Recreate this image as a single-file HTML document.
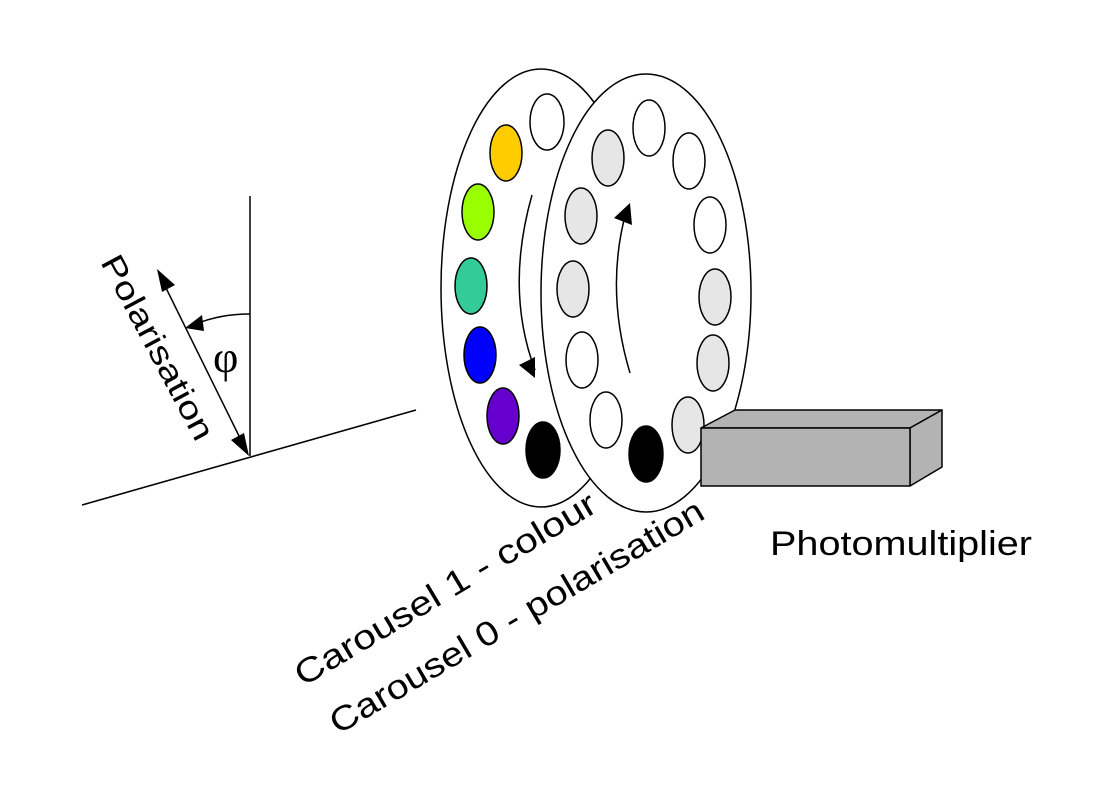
<!DOCTYPE html>
<html><head><meta charset="utf-8"><style>html,body{margin:0;padding:0;background:#fff}svg{display:block}</style></head>
<body>
<svg width="1109" height="803" viewBox="0 0 1109 803" xmlns="http://www.w3.org/2000/svg" font-family="Liberation Sans, Arial, sans-serif">
<defs>
<marker id="ah" viewBox="0 0 10 10" refX="9" refY="5" markerWidth="8" markerHeight="8" orient="auto" markerUnits="userSpaceOnUse">
</marker>
</defs>
<!-- left angle diagram -->
<line x1="250" y1="196" x2="250" y2="456" stroke="#000" stroke-width="1.5"/>
<line x1="82" y1="505" x2="416" y2="410" stroke="#000" stroke-width="1.5"/>
<line x1="166" y1="288" x2="240" y2="438" stroke="#000" stroke-width="1.5"/>
<polygon points="157,269 175,285 162,292" fill="#000"/>
<polygon points="249,456 231,440 244,433" fill="#000"/>
<path d="M250,314 Q220,314 196,324" fill="none" stroke="#000" stroke-width="1.5"/>
<polygon points="185,328 202,315 204,331" fill="#000"/>
<text x="213" y="372" font-family="Liberation Serif, serif" font-size="44">φ</text>
<text transform="translate(100,262) rotate(62)" font-size="32" textLength="205" lengthAdjust="spacingAndGlyphs">Polarisation</text>

<!-- left carousel -->
<ellipse cx="541" cy="288" rx="100" ry="219" fill="#fff" stroke="#000" stroke-width="1.5"/>
<g stroke="#000" stroke-width="1.5">
<ellipse cx="547" cy="122" rx="17" ry="28" fill="#fff"/>
<ellipse cx="506" cy="153" rx="16" ry="28" fill="#ffcc00"/>
<ellipse cx="478" cy="212" rx="16" ry="28" fill="#99ff00"/>
<ellipse cx="471" cy="286" rx="16" ry="28" fill="#33cc99"/>
<ellipse cx="480" cy="355" rx="16" ry="28" fill="#0000ff"/>
<ellipse cx="503" cy="416" rx="16" ry="28" fill="#6600cc"/>
<ellipse cx="543" cy="450" rx="17" ry="28" fill="#000"/>
</g>
<path d="M532,195 Q505,290 535,370" fill="none" stroke="#000" stroke-width="1.5"/>
<polygon points="535,378 519,365 535,357" fill="#000"/>

<!-- right carousel -->
<ellipse cx="646" cy="293" rx="105" ry="219" fill="#fff" stroke="#000" stroke-width="1.5"/>
<g stroke="#000" stroke-width="1.5">
<ellipse cx="649" cy="128" rx="16" ry="28" fill="#fff"/>
<ellipse cx="608" cy="158" rx="16" ry="28" fill="#e6e6e6"/>
<ellipse cx="689" cy="161" rx="16" ry="28" fill="#fff"/>
<ellipse cx="581" cy="216" rx="16" ry="28" fill="#e6e6e6"/>
<ellipse cx="710" cy="225" rx="16" ry="28" fill="#fff"/>
<ellipse cx="573" cy="289" rx="16" ry="28" fill="#e6e6e6"/>
<ellipse cx="715" cy="297" rx="16" ry="28" fill="#e6e6e6"/>
<ellipse cx="582" cy="360" rx="16" ry="28" fill="#fff"/>
<ellipse cx="713" cy="363" rx="16" ry="28" fill="#e6e6e6"/>
<ellipse cx="606" cy="420" rx="16" ry="28" fill="#fff"/>
<ellipse cx="646" cy="454" rx="17" ry="28" fill="#000"/>
<ellipse cx="688" cy="425" rx="16" ry="28" fill="#e6e6e6"/>
</g>
<path d="M630,373 Q605,290 626,212" fill="none" stroke="#000" stroke-width="1.5"/>
<polygon points="630,203 632,225 614,218" fill="#000"/>

<!-- photomultiplier -->
<g stroke="#000" stroke-width="1.5" fill="#b3b3b3" stroke-linejoin="round">
<polygon points="701,428 735,410 942,410 910,428"/>
<polygon points="910,428 942,410 942,467 910,486"/>
<rect x="701" y="428" width="209" height="58"/>
</g>
<text x="770" y="555" font-size="34" textLength="262" lengthAdjust="spacingAndGlyphs">Photomultiplier</text>

<text transform="translate(303,687) rotate(-30.8)" font-size="34" textLength="345" lengthAdjust="spacingAndGlyphs">Carousel 1 - colour</text>
<text transform="translate(338,735) rotate(-30.5)" font-size="34" textLength="428" lengthAdjust="spacingAndGlyphs">Carousel 0 - polarisation</text>
</svg>
</body></html>
